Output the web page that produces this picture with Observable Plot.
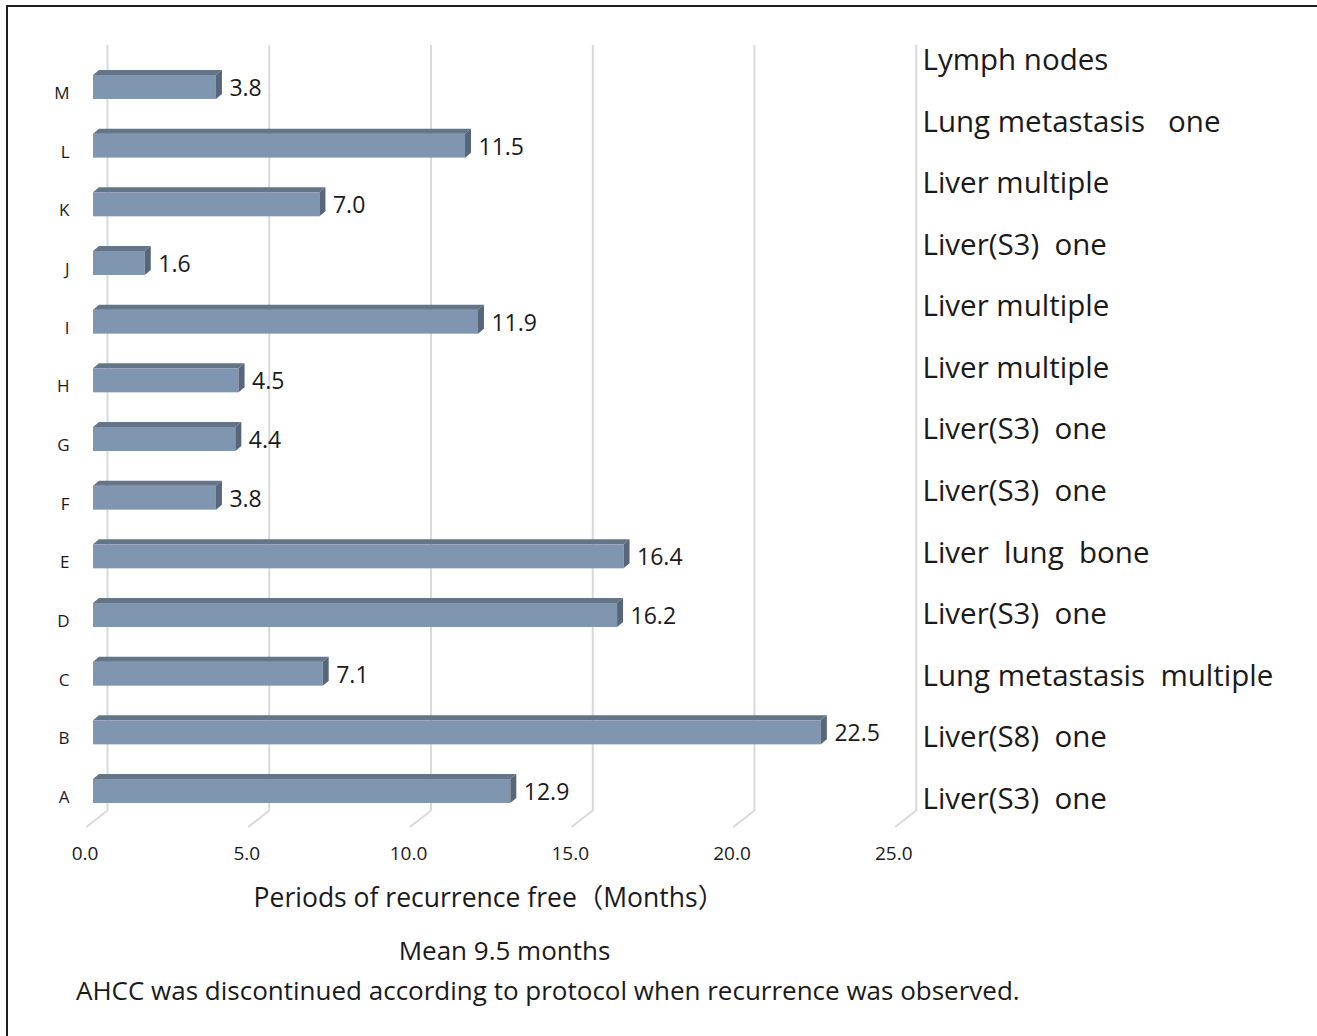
<!DOCTYPE html>
<html>
<head>
<meta charset="utf-8">
<script src="https://cdn.jsdelivr.net/npm/d3@7"></script>
<script src="https://cdn.jsdelivr.net/npm/@observablehq/plot@0.6"></script>
<style>
  body { margin: 0; background: #fff; font-family: "Open Sans", "Noto Sans CJK JP", sans-serif; }
  #wrap { position: relative; width: 1317px; height: 1036px; overflow: hidden; background: #fff; }
  #border { position: absolute; left: 6px; top: 5px; width: 2000px; height: 2000px;
            border-top: 2px solid #1e1e1e; border-left: 2px solid #1e1e1e; box-sizing: border-box; }
  #chart { position: absolute; left: 0; top: 0; }
  #sites { position: absolute; left: 915px; top: 0; }
  svg text { white-space: pre; }
  .note { position: absolute; font-size: 26px; line-height: 34px; color: #1a1a1a; white-space: pre; }
  #mean { left: 0; width: 1009px; text-align: center; top: 933px; }
  #protocol { left: 76px; top: 973px; }
</style>
</head>
<body>
<div id="wrap">
  <div id="border"></div>
  <div id="chart"></div>
  <div id="sites"></div>
  <div class="note" id="mean"></div>
  <div class="note" id="protocol"></div>
</div>
<script>
// Patients, listed top to bottom
const patients = ["M", "L", "K", "J", "I", "H", "G", "F", "E", "D", "C", "B", "A"];
// Recurrence-free period per patient (months)
const months = [3.8, 11.5, 7.0, 1.6, 11.9, 4.5, 4.4, 3.8, 16.4, 16.2, 7.1, 22.5, 12.9];
// Site of recurrence per patient
const sites = [
  "Lymph nodes",
  "Lung metastasis   one",
  "Liver multiple",
  "Liver(S3)  one",
  "Liver multiple",
  "Liver multiple",
  "Liver(S3)  one",
  "Liver(S3)  one",
  "Liver  lung  bone",
  "Liver(S3)  one",
  "Lung metastasis  multiple",
  "Liver(S8)  one",
  "Liver(S3)  one"
];
const xTicks = [0, 5, 10, 15, 20, 25];
const xLabel = "Periods of recurrence free（Months）";
const meanText = "Mean 9.5 months";
const protocolText = "AHCC was discontinued according to protocol when recurrence was observed.";

const rows = patients.map((p, i) => ({patient: p, months: months[i], site: sites[i]}));

const ink = "#1a1a1a";
const depthX = 6, depthY = 5;  // 3D extrusion of the bars
const ns = "http://www.w3.org/2000/svg";

// Draws the top and right-hand faces of each bar as extruded polygons
function extrude(index, scales, values, dimensions, context, next) {
  const g = next(index, scales, values, dimensions, context);
  for (const r of Array.from(g.querySelectorAll("rect"))) {
    const x0 = +r.getAttribute("x"), y0 = +r.getAttribute("y");
    const w = +r.getAttribute("width"), h = +r.getAttribute("height");
    const x1 = x0 + w;
    const top = document.createElementNS(ns, "polygon");
    top.setAttribute("points", `${x0},${y0} ${x0 + depthX},${y0 - depthY} ${x1 + depthX},${y0 - depthY} ${x1},${y0}`);
    top.setAttribute("fill", "#637589");
    const side = document.createElementNS(ns, "polygon");
    side.setAttribute("points", `${x1},${y0} ${x1 + depthX},${y0 - depthY} ${x1 + depthX},${y0 + h - depthY} ${x1},${y0 + h}`);
    side.setAttribute("fill", "#56677b");
    g.appendChild(top);
    g.appendChild(side);
  }
  return g;
}

// Floor edge of each back-wall gridline
const floorEdge = {draw(context, l) { context.moveTo(0, 0); context.lineTo(0, -l); }};

const chart = Plot.plot({
  width: 1317,
  height: 915,
  marginLeft: 93,
  marginRight: 415.25,
  marginTop: 45,
  marginBottom: 105,
  style: {fontFamily: "'Open Sans', 'Noto Sans CJK JP', sans-serif", color: ink, background: "transparent"},
  x: {domain: [0, 25]},
  y: {domain: patients, range: [40.3, 837.7], padding: 0.591, round: false},
  marks: [
    Plot.ruleX(xTicks, {dx: 14, stroke: "#d9d9d9", strokeWidth: 2}),
    Plot.vector(xTicks, {x: d => d, frameAnchor: "bottom", dx: 14, length: 26, rotate: 232, anchor: "start",
      stroke: "#d9d9d9", strokeWidth: 2, shape: floorEdge}),
    Plot.barX(rows, {x: "months", y: "patient", fill: "#8096b0", render: extrude}),
    Plot.text(rows, {x: "months", y: "patient", text: d => d.months.toFixed(1), dx: 13, dy: 1,
      textAnchor: "start", fontSize: 23, fill: ink}),
    Plot.axisY({tickSize: 0, tickPadding: 24, dy: 6, fontSize: 17, label: null}),
    Plot.axisX({ticks: xTicks, tickFormat: d => d.toFixed(1), tickSize: 0, tickPadding: 36, dx: -8.5,
      fontSize: 19, label: null}),
    Plot.text([xLabel], {frameAnchor: "bottom", dx: -9, dy: 96, fontSize: 26.5, fill: ink})
  ]
});
document.getElementById("chart").appendChild(chart);

const siteChart = Plot.plot({
  width: 402,
  height: 840,
  marginLeft: 0,
  marginRight: 0,
  marginTop: 0,
  marginBottom: 0,
  style: {fontFamily: "'Open Sans', sans-serif", color: ink, background: "transparent"},
  y: {type: "point", domain: patients, range: [60, 799], padding: 0, round: false, axis: null},
  marks: [
    Plot.text(rows, {y: "patient", text: "site", frameAnchor: "left", dx: 7, textAnchor: "start",
      fontSize: 29.5, fill: ink})
  ]
});
document.getElementById("sites").appendChild(siteChart);

document.getElementById("mean").textContent = meanText;
document.getElementById("protocol").textContent = protocolText;
</script>
</body>
</html>
